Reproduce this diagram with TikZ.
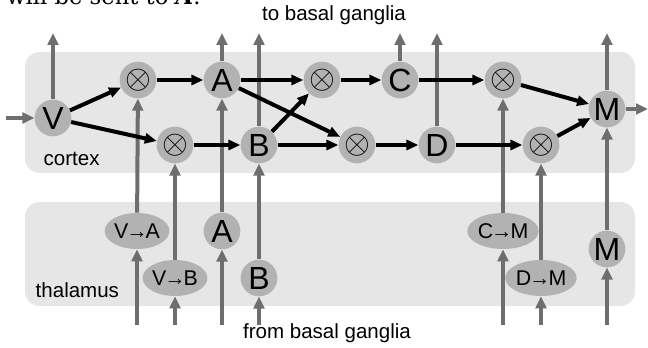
\documentclass[tikz,border=0pt]{standalone}
\usepackage{fontspec}
\setmainfont{Liberation Sans}
\newfontfamily\cutfont{DejaVu Serif}
\usetikzlibrary{shapes.geometric,arrows.meta}
\definecolor{boxgray}{RGB}{230,230,230}
\definecolor{nodegray}{RGB}{178,178,178}
\definecolor{linegray}{RGB}{110,110,110}
\newcommand{\routeto}{\kern-1.5pt→\kern-1.5pt}

\begin{document}
\begin{tikzpicture}[x=0.75pt, y=-0.75pt,
  cell/.style={circle, fill=nodegray, minimum size=27.5pt, inner sep=0pt, font=\fontsize{24}{24}\selectfont},
  prod/.style={circle, fill=nodegray, minimum size=27.5pt, inner sep=0pt, font=\fontsize{23}{23}\selectfont},
  gate/.style={ellipse, fill=nodegray, minimum width=43pt, minimum height=27pt, inner sep=0pt, font=\fontsize{16}{16}\selectfont},
  areabox/.style={fill=boxgray, rounded corners=11pt},
  feed/.style={draw=linegray, line width=3pt, -{Triangle[length=9pt,width=8pt]}},
  conn/.style={draw=black, line width=3pt, -{Triangle[length=9pt,width=7.5pt]}}]
  \useasboundingbox (0,0) rectangle (648,348);

  % regions
  \fill[areabox] (25,52) rectangle (635,173);
  \fill[areabox] (25,202) rectangle (635,306);
  \node[anchor=base west, font=\fontsize{15.4}{15.4}\selectfont] (ctx) at (39,166) {cortex};
  \node[anchor=base west, font=\fontsize{15.4}{15.4}\selectfont] (thl) at (31,298) {thalamus};
  \node[font=\fontsize{15.4}{15.4}\selectfont] (tobg) at (334,15) {to basal ganglia};
  \node[font=\fontsize{15.4}{15.4}\selectfont] (frombg) at (327,333) {from basal ganglia};
  \node[anchor=base west, inner sep=0pt, font=\cutfont\fontsize{17}{17}\selectfont] (cut) at (6,5) {will be sent to \textbf{\textit{A}}.};

  % cortex
  \node[cell] (V) at (53,118) {V};
  \node[prod] (m1) at (138,80) {$\otimes$};
  \node[prod] (m2) at (175,145) {$\otimes$};
  \node[cell] (A) at (222,80) {A};
  \node[cell] (B) at (259,145) {B};
  \node[prod] (m3) at (322,80) {$\otimes$};
  \node[prod] (m4) at (357,145) {$\otimes$};
  \node[cell] (C) at (400,80) {C};
  \node[cell] (D) at (437,145) {D};
  \node[prod] (m5) at (503,80) {$\otimes$};
  \node[prod] (m6) at (541,145) {$\otimes$};
  \node[cell] (M) at (607,109) {M};

  % thalamus
  \node[gate] (tVA) at (137,231) {V\routeto A};
  \node[gate] (tVB) at (175,278) {V\routeto B};
  \node[cell] (tA) at (222,231) {A};
  \node[cell] (tB) at (259,278) {B};
  \node[gate] (tCM) at (503,231) {C\routeto M};
  \node[gate] (tDM) at (541,278) {D\routeto M};
  \node[cell] (tM) at (607,249) {M};

  % free ends
  \coordinate (in) at (6,118);
  \coordinate (out) at (648,109);
  \foreach \n/\x in {V/53, A/222, B/259, C/400, D/437, M/607}
    \coordinate (up\n) at (\x,33);
  \foreach \n/\x in {tVA/137, tVB/175, tA/222, tB/259, tCM/503, tDM/541, tM/607}
    \coordinate (lo\n) at (\x,325);

  % basal ganglia and thalamus feeds
  \draw[feed] (in) -- (V);
  \draw[feed] (M) -- (out);
  \foreach \n in {V, A, B, C, D, M}
    \draw[feed] (\n) -- (up\n);
  \foreach \n in {tVA, tVB, tA, tB, tCM, tDM, tM}
    \draw[feed] (lo\n) -- (\n);
  \draw[feed] (tVA) -- (m1);
  \draw[feed] (tVB) -- (m2);
  \draw[feed] (tA) -- (A);
  \draw[feed] (tB) -- (B);
  \draw[feed] (tCM) -- (m5);
  \draw[feed] (tDM) -- (m6);
  \draw[feed] (tM) -- (M);

  % cortical routing
  \draw[conn] (V) -- (m1);
  \draw[conn] (V) -- (m2);
  \draw[conn] (m1) -- (A);
  \draw[conn] (m2) -- (B);
  \draw[conn] (A) -- (m3);
  \draw[conn] (A) -- (m4);
  \draw[conn] (B) -- (m3);
  \draw[conn] (B) -- (m4);
  \draw[conn] (m3) -- (C);
  \draw[conn] (m4) -- (D);
  \draw[conn] (C) -- (m5);
  \draw[conn] (D) -- (m6);
  \draw[conn] (m5) -- (M);
  \draw[conn] (m6) -- (M);
\end{tikzpicture}
\end{document}
